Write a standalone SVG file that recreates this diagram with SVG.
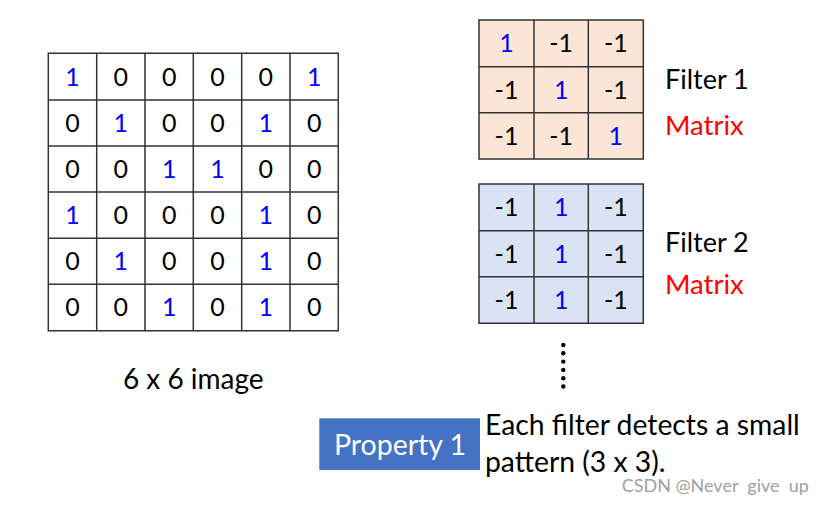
<svg xmlns="http://www.w3.org/2000/svg" width="831" height="507" viewBox="0 0 831 507">
<style>
text{font-family:Lato,"Open Sans","Liberation Sans",sans-serif}
.d{font-size:25px;text-anchor:middle;fill:#000}
.b{fill:#0000ff}
.g{fill:none;stroke:#333;stroke-width:1.5}
.lbl{font-size:27px;fill:#000}
.red{font-size:27.5px;fill:#ff0000}
</style>
<rect width="831" height="507" fill="#fff"/>
<g id="image">
<path class="g" d="M48.3 53.3H338.3V330.7H48.3Z M96.7 53.3V330.7 M145 53.3V330.7 M193.3 53.3V330.7 M241.7 53.3V330.7 M290 53.3V330.7 M48.3 100H338.3 M48.3 146H338.3 M48.3 192H338.3 M48.3 238.3H338.3 M48.3 284.3H338.3"/>
<g class="d">
<text x="72.5" y="85.5" class="b">1</text><text x="120.8" y="85.5">0</text><text x="169.2" y="85.5">0</text><text x="217.5" y="85.5">0</text><text x="265.8" y="85.5">0</text><text x="314.2" y="85.5" class="b">1</text>
<text x="72.5" y="131.8">0</text><text x="120.8" y="131.8" class="b">1</text><text x="169.2" y="131.8">0</text><text x="217.5" y="131.8">0</text><text x="265.8" y="131.8" class="b">1</text><text x="314.2" y="131.8">0</text>
<text x="72.5" y="177.8">0</text><text x="120.8" y="177.8">0</text><text x="169.2" y="177.8" class="b">1</text><text x="217.5" y="177.8" class="b">1</text><text x="265.8" y="177.8">0</text><text x="314.2" y="177.8">0</text>
<text x="72.5" y="223.8" class="b">1</text><text x="120.8" y="223.8">0</text><text x="169.2" y="223.8">0</text><text x="217.5" y="223.8">0</text><text x="265.8" y="223.8" class="b">1</text><text x="314.2" y="223.8">0</text>
<text x="72.5" y="270.1">0</text><text x="120.8" y="270.1" class="b">1</text><text x="169.2" y="270.1">0</text><text x="217.5" y="270.1">0</text><text x="265.8" y="270.1" class="b">1</text><text x="314.2" y="270.1">0</text>
<text x="72.5" y="316.3">0</text><text x="120.8" y="316.3">0</text><text x="169.2" y="316.3" class="b">1</text><text x="217.5" y="316.3">0</text><text x="265.8" y="316.3" class="b">1</text><text x="314.2" y="316.3">0</text>
</g>
<text x="193.3" y="388.5" font-size="28" text-anchor="middle" fill="#000">6 x 6 image</text>
</g>
<g id="filter1">
<rect x="479" y="20" width="164.3" height="139" fill="#fbe5d6"/>
<path class="g" d="M479 20H643.3V159H479Z M534 20V159 M588.3 20V159 M479 66.7H643.3 M479 112.7H643.3"/>
<g class="d">
<text x="506.5" y="52.1" class="b">1</text><text x="561.2" y="52.1">-1</text><text x="615.8" y="52.1">-1</text>
<text x="506.5" y="98.5">-1</text><text x="561.2" y="98.5" class="b">1</text><text x="615.8" y="98.5">-1</text>
<text x="506.5" y="144.6">-1</text><text x="561.2" y="144.6">-1</text><text x="615.8" y="144.6" class="b">1</text>
</g>
<text x="665" y="89" class="lbl">Filter 1</text>
<text x="665" y="135" class="red">Matrix</text>
</g>
<g id="filter2">
<rect x="479" y="184" width="164.3" height="139.3" fill="#dae3f3"/>
<path class="g" d="M479 184H643.3V323.3H479Z M534 184V323.3 M588.3 184V323.3 M479 230.7H643.3 M479 276.7H643.3"/>
<g class="d">
<text x="506.5" y="216.1">-1</text><text x="561.2" y="216.1" class="b">1</text><text x="615.8" y="216.1">-1</text>
<text x="506.5" y="262.5">-1</text><text x="561.2" y="262.5" class="b">1</text><text x="615.8" y="262.5">-1</text>
<text x="506.5" y="308.8">-1</text><text x="561.2" y="308.8" class="b">1</text><text x="615.8" y="308.8">-1</text>
</g>
<text x="665" y="252" class="lbl">Filter 2</text>
<text x="665" y="294" class="red">Matrix</text>
</g>
<g id="dots" fill="#000">
<circle cx="563.3" cy="345" r="2.2"/><circle cx="563.3" cy="353.3" r="2.2"/><circle cx="563.3" cy="361.6" r="2.2"/><circle cx="563.3" cy="369.9" r="2.2"/><circle cx="563.3" cy="378.2" r="2.2"/><circle cx="563.3" cy="386.5" r="2.2"/>
</g>
<g id="property1">
<rect x="319.3" y="418.3" width="160.7" height="51.7" fill="#4472c4"/>
<text x="400" y="455" font-size="28.5" text-anchor="middle" fill="#fff">Property 1</text>
</g>
<g id="description">
<text x="485" y="435" font-size="28.3" fill="#000">Each filter detects a small</text>
<text x="485" y="471.7" font-size="28.3" fill="#000">pattern (3 x 3).</text>
</g>
<text x="621.7" y="491.7" font-size="18" fill="#a0a0a0" style="white-space:pre">CSDN @Never  give  up</text>
</svg>
